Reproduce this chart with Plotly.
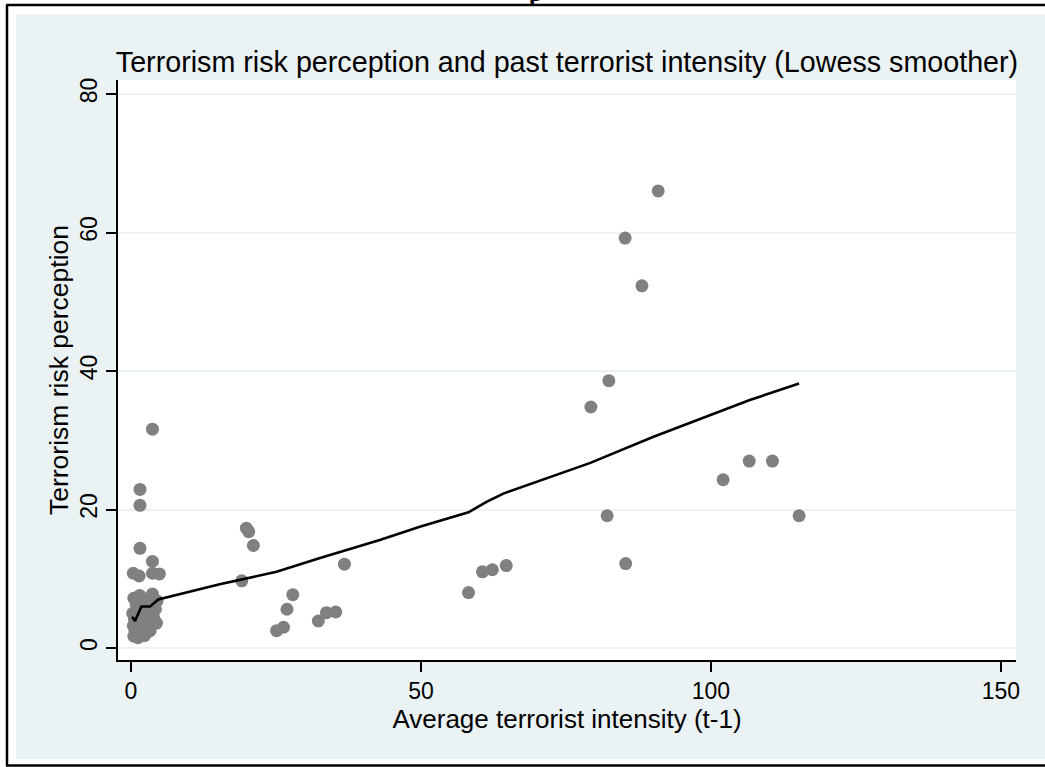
import plotly.graph_objects as go

# ---- data ----
# scatter: average terrorist intensity (t-1) vs terrorism risk perception
intensity = [
    # cluster near zero
    0.5, 1.5, 3.7, 4.5, 2.6, 0.9,
    0.3, 1.2, 2.2, 3.3, 4.2, 0.6, 1.8, 2.9, 3.9, 4.4,
    0.4, 1.3, 2.4, 3.4, 0.7, 1.6, 2.6, 3.3, 0.5, 1.2, 2.3,
    0.4, 1.4, 3.7, 4.9, 3.7, 1.55, 1.55, 1.55, 3.7,
    # 20-40 group
    19.9, 20.3, 21.1, 19.1, 36.8, 27.9, 26.9, 25.1, 26.3, 32.3, 33.7, 35.3,
    # 55-65 group
    58.2, 60.6, 62.3, 64.7,
    # high intensity
    90.9, 85.2, 88.1, 82.4, 79.3, 102.1, 106.6, 110.6, 82.1, 115.2, 85.3,
]
risk = [
    7.2, 7.6, 7.8, 6.8, 6.6, 6.2,
    5.0, 5.4, 5.6, 5.2, 5.6, 4.2, 4.5, 4.0, 4.4, 3.6,
    3.2, 3.4, 3.0, 3.2, 2.4, 2.2, 2.1, 2.5, 1.7, 1.5, 1.8,
    10.8, 10.4, 10.8, 10.7, 12.5, 14.4, 20.6, 22.9, 31.6,
    17.3, 16.8, 14.8, 9.7, 12.1, 7.7, 5.6, 2.5, 3.0, 3.9, 5.1, 5.2,
    8.0, 11.0, 11.3, 11.9,
    66.0, 59.2, 52.3, 38.6, 34.8, 24.3, 27.0, 27.0, 19.1, 19.1, 12.2,
]

# lowess smoother
lowess_x = [0.2, 0.7, 1.8, 3.3, 4.7, 15.3, 25.1, 32.6, 42.9, 49.8, 58.2, 61.3, 64.2, 79.1, 90.1, 106.7, 115.2]
lowess_y = [4.5, 3.9, 6.0, 6.0, 7.0, 9.2, 11.0, 13.0, 15.6, 17.5, 19.6, 21.1, 22.3, 26.7, 30.5, 35.8, 38.2]

x_ticks = [0, 50, 100, 150]
y_ticks = [0, 20, 40, 60, 80]

TITLE = "Terrorism risk perception and past terrorist intensity (Lowess smoother)"
X_TITLE = "Average terrorist intensity (t-1)"
Y_TITLE = "Terrorism risk perception"

# ---- layout geometry (pixels) ----
W_FIG, H_FIG = 1045, 767
L, R, T, B = 118, 29, 80, 107
PW, PH = W_FIG - L - R, H_FIG - T - B


def fx(px):
    return (px - L) / PW


def fy(py):
    return (H_FIG - B - py) / PH


BG = "#EAF2F3"
FONT = "Liberation Sans, Arial, sans-serif"

fig = go.Figure()
fig.add_trace(go.Scatter(
    x=intensity, y=risk, mode="markers",
    marker=dict(size=13, color="#808080", line=dict(width=0)),
    showlegend=False, hoverinfo="x+y",
))
fig.add_trace(go.Scatter(
    x=lowess_x, y=lowess_y, mode="lines",
    line=dict(color="black", width=2.6),
    showlegend=False,
))

shapes = [
    # white strips between the outer frame and the graph region
    dict(type="rect", xref="paper", yref="paper", x0=fx(-10), x1=fx(16), y0=fy(790), y1=fy(-20),
         fillcolor="white", line=dict(width=0), layer="below"),
    dict(type="rect", xref="paper", yref="paper", x0=fx(-10), x1=fx(1070), y0=fy(14), y1=fy(-20),
         fillcolor="white", line=dict(width=0), layer="below"),
    dict(type="rect", xref="paper", yref="paper", x0=fx(-10), x1=fx(1070), y0=fy(790), y1=fy(759),
         fillcolor="white", line=dict(width=0), layer="below"),
    # outer black frame
    dict(type="line", xref="paper", yref="paper", x0=fx(7), x1=fx(7), y0=fy(5), y1=fy(766),
         line=dict(color="black", width=2.5)),
    dict(type="line", xref="paper", yref="paper", x0=fx(6), x1=fx(1070), y0=fy(5), y1=fy(5),
         line=dict(color="black", width=2.5)),
    dict(type="line", xref="paper", yref="paper", x0=fx(6), x1=fx(1070), y0=fy(765.5), y1=fy(765.5),
         line=dict(color="black", width=2.5)),
]

annotations = [
    # descender of a cropped caption letter at the very top
    dict(text="p", xref="paper", yref="paper", x=fx(535), y=fy(6), xanchor="center", yanchor="bottom",
         showarrow=False, borderpad=0, borderwidth=0,
         font=dict(family="Liberation Serif, Times New Roman, serif", size=24, color="black", weight="bold")),
]

fig.update_layout(
    width=W_FIG, height=H_FIG,
    margin=dict(l=L, r=R, t=T, b=B, pad=0),
    paper_bgcolor=BG, plot_bgcolor="white",
    font=dict(family=FONT, color="black"),
    title=dict(text=TITLE, x=0.5, xref="paper", xanchor="center",
               y=1 - 62 / H_FIG, yref="container", yanchor="middle",
               font=dict(size=28.7, color="black", family=FONT)),
    shapes=shapes, annotations=annotations,
    showlegend=False,
)

fig.update_xaxes(
    range=[-2.24, 152.6], tickvals=x_ticks, ticktext=[str(v) for v in x_ticks],
    showgrid=False, zeroline=False,
    showline=True, linecolor="black", linewidth=1.5,
    ticks="outside", ticklen=10, tickwidth=1.5, tickcolor="black",
    tickfont=dict(size=23, color="black"),
    title=dict(text=X_TITLE, font=dict(size=26, color="black"), standoff=4),
)
fig.update_yaxes(
    range=[-1.73, 82.02], tickvals=y_ticks, ticktext=[str(v) for v in y_ticks],
    showgrid=True, gridcolor=BG, gridwidth=1.5, zeroline=False,
    showline=True, linecolor="black", linewidth=1.5,
    ticks="outside", ticklen=10, tickwidth=1.5, tickcolor="black",
    tickangle=-90, tickfont=dict(size=23, color="black"),
    title=dict(text=Y_TITLE, font=dict(size=26.5, color="black"), standoff=0),
)

# place the figure at the very top-left corner of the page (no default body margin)
fig.write_html(
    "out.html",
    config={"displayModeBar": False},
    post_script="document.body.style.margin='0px';document.body.style.overflow='hidden';",
)
